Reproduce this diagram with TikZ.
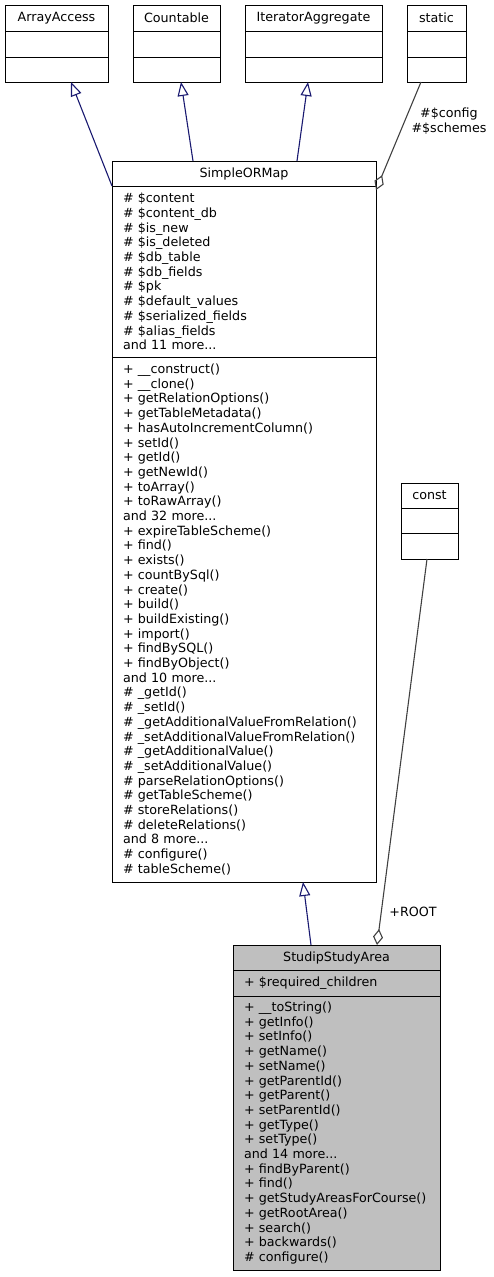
\documentclass[tikz,border=0pt]{standalone}
\usepackage{fontspec}
\setmainfont{DejaVu Sans}
\usetikzlibrary{arrows.meta,positioning}

\definecolor{inhblue}{HTML}{191970}
\definecolor{aggrgray}{HTML}{404040}
\definecolor{curgray}{HTML}{BFBFBF}

\begin{document}
\begin{tikzpicture}[x=1pt,y=-1pt,font=\fontsize{12.7}{14.7}\selectfont]
  \tikzstyle{box}=[draw,line width=1pt,fill=white,anchor=north west,inner sep=0pt,outer sep=0pt]
  \tikzstyle{members}=[box,align=left,inner xsep=11pt]
  \tikzstyle{inherit}=[draw=inhblue,line width=1.1pt,-{Triangle[open,width=11pt,length=14pt]}]
  \tikzstyle{aggr}=[draw=aggrgray,line width=1.1pt,-{Diamond[open,width=10pt,length=16pt]}]
  \useasboundingbox (0,0) rectangle (493,1277);

  % interfaces
  \node[box,minimum width=103pt,minimum height=26pt] (arrayaccess) at (5,5) {ArrayAccess};
  \node[box,minimum width=103pt,minimum height=26pt] (arrayaccess_attr) at (5,31) {};
  \node[box,minimum width=103pt,minimum height=25pt] (arrayaccess_ops) at (5,57) {};

  \node[box,minimum width=87pt,minimum height=26pt] (countable) at (133,5) {Countable};
  \node[box,minimum width=87pt,minimum height=26pt] (countable_attr) at (133,31) {};
  \node[box,minimum width=87pt,minimum height=25pt] (countable_ops) at (133,57) {};

  \node[box,minimum width=137pt,minimum height=26pt] (iteragg) at (245,5) {IteratorAggregate};
  \node[box,minimum width=137pt,minimum height=26pt] (iteragg_attr) at (245,31) {};
  \node[box,minimum width=137pt,minimum height=25pt] (iteragg_ops) at (245,57) {};

  \node[box,minimum width=59pt,minimum height=26pt] (static) at (407,5) {static};
  \node[box,minimum width=59pt,minimum height=26pt] (static_attr) at (407,31) {};
  \node[box,minimum width=59pt,minimum height=25pt] (static_ops) at (407,57) {};

  % SimpleORMap
  \node[box,minimum width=264pt,minimum height=25pt] (sorm) at (112,161) {SimpleORMap};
  \node[members,text width=242pt,minimum height=171pt] (sorm_attr) at (112,186) {%
    \# \$content\\
    \# \$content\_db\\
    \# \$is\_new\\
    \# \$is\_deleted\\
    \# \$db\_table\\
    \# \$db\_fields\\
    \# \$pk\\
    \# \$default\_values\\
    \# \$serialized\_fields\\
    \# \$alias\_fields\\
    and 11 more...};
  \node[members,text width=242pt,minimum height=525pt] (sorm_ops) at (112,357) {%
    + \_\_construct()\\
    + \_\_clone()\\
    + getRelationOptions()\\
    + getTableMetadata()\\
    + hasAutoIncrementColumn()\\
    + setId()\\
    + getId()\\
    + getNewId()\\
    + toArray()\\
    + toRawArray()\\
    and 32 more...\\
    + expireTableScheme()\\
    + find()\\
    + exists()\\
    + countBySql()\\
    + create()\\
    + build()\\
    + buildExisting()\\
    + import()\\
    + findBySQL()\\
    + findByObject()\\
    and 10 more...\\
    \# \_getId()\\
    \# \_setId()\\
    \# \_getAdditionalValueFromRelation()\\
    \# \_setAdditionalValueFromRelation()\\
    \# \_getAdditionalValue()\\
    \# \_setAdditionalValue()\\
    \# parseRelationOptions()\\
    \# getTableScheme()\\
    \# storeRelations()\\
    \# deleteRelations()\\
    and 8 more...\\
    \# configure()\\
    \# tableScheme()};

  % const
  \node[box,minimum width=57pt,minimum height=25pt] (const) at (401,483) {const};
  \node[box,minimum width=57pt,minimum height=25pt] (const_attr) at (401,508) {};
  \node[box,minimum width=57pt,minimum height=26pt] (const_ops) at (401,533) {};

  % StudipStudyArea
  \node[box,fill=curgray,minimum width=207pt,minimum height=25pt] (ssa) at (233,945) {StudipStudyArea};
  \node[members,fill=curgray,text width=185pt,minimum height=26pt] (ssa_attr) at (233,970) {+ \$required\_children};
  \node[members,fill=curgray,text width=185pt,minimum height=274pt] (ssa_ops) at (233,996) {%
    + \_\_toString()\\
    + getInfo()\\
    + setInfo()\\
    + getName()\\
    + setName()\\
    + getParentId()\\
    + getParent()\\
    + setParentId()\\
    + getType()\\
    + setType()\\
    and 14 more...\\
    + findByParent()\\
    + find()\\
    + getStudyAreasForCourse()\\
    + getRootArea()\\
    + search()\\
    + backwards()\\
    \# configure()};

  % inheritance
  \draw[inherit] (sorm.south west) -- ([xshift=14.5pt]arrayaccess_ops.south);
  \draw[inherit] ([xshift=-51pt]sorm.north) -- ([xshift=4.5pt]countable_ops.south);
  \draw[inherit] ([xshift=53pt]sorm.north) -- ([xshift=-5.5pt]iteragg_ops.south);
  \draw[inherit] ([xshift=-25.5pt]ssa.north) -- ([xshift=59pt]sorm_ops.south);

  % aggregation
  \draw[aggr] ([xshift=-15.5pt]static_ops.south) -- ([yshift=-4pt]sorm_attr.north east);
  \node[align=center] (static_lbl) at (449,121) {\#\$config\\\#\$schemes};
  \draw[aggr] ([xshift=-2.5pt]const_ops.south) -- ([xshift=40.5pt]ssa.north);
  \node (const_lbl) at (413,912) {+ROOT};
\end{tikzpicture}
\end{document}
